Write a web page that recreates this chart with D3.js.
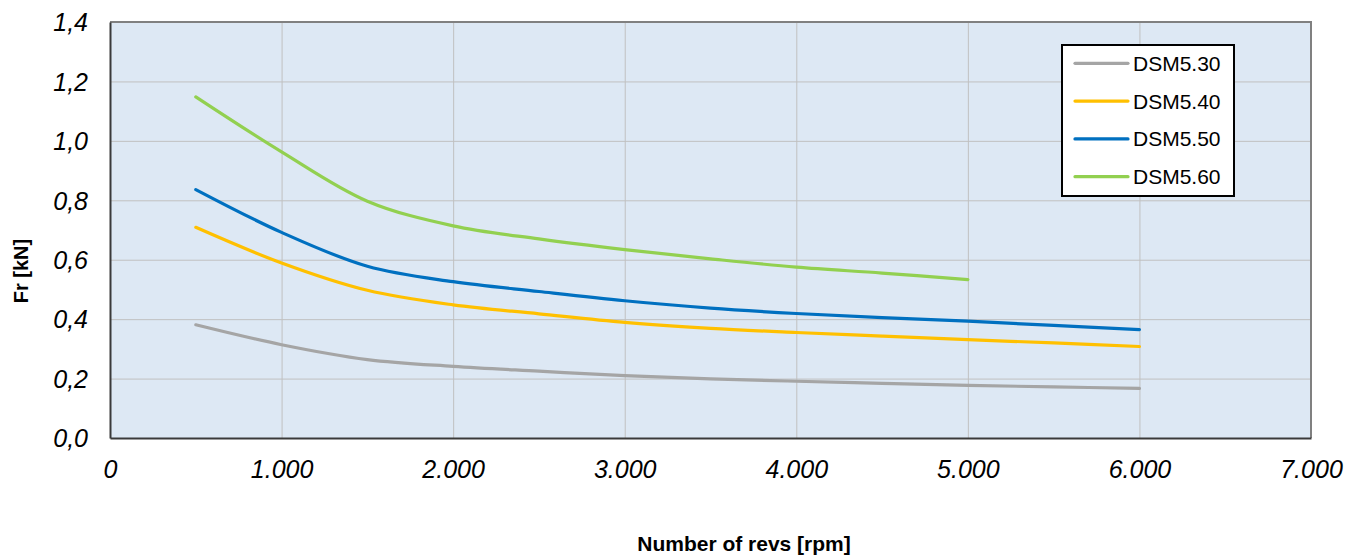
<!DOCTYPE html>
<html>
<head>
<meta charset="utf-8">
<script src="https://cdn.jsdelivr.net/npm/d3@7"></script>
<style>
  html, body { margin: 0; padding: 0; background: #ffffff; }
  svg { display: block; font-family: "Liberation Sans", Arial, sans-serif; }
</style>
</head>
<body>
<svg id="chart" width="1364" height="560"></svg>
<script>
// ---- data ----
const seriesNames = ["DSM5.30", "DSM5.40", "DSM5.50", "DSM5.60"];
const seriesColors = ["#A5A5A5", "#FFC000", "#0070C0", "#92D050"];

const rpm = [500, 1000, 1500, 2000, 2500, 3000, 3500, 4000, 4500, 5000, 5500, 6000];
const dsm530 = [0.381, 0.314, 0.264, 0.241, 0.225, 0.210, 0.199, 0.191, 0.184, 0.177, 0.172, 0.167];
const dsm540 = [0.709, 0.589, 0.497, 0.448, 0.418, 0.389, 0.369, 0.355, 0.343, 0.331, 0.320, 0.308];
const dsm550 = [0.836, 0.692, 0.578, 0.526, 0.493, 0.462, 0.437, 0.419, 0.405, 0.393, 0.379, 0.365];
const rpm560 = [500, 1000, 1500, 2000, 2500, 3000, 3500, 4000, 4500, 5000];
const dsm560 = [1.148, 0.963, 0.797, 0.714, 0.670, 0.634, 0.603, 0.575, 0.555, 0.533];

const xTicks = [0, 1000, 2000, 3000, 4000, 5000, 6000, 7000];
const yTicks = [0, 0.2, 0.4, 0.6, 0.8, 1.0, 1.2, 1.4];
const xTitle = "Number of revs [rpm]";
const yTitle = "Fr [kN]";

const series = [
  { name: seriesNames[0], color: seriesColors[0], x: rpm, y: dsm530 },
  { name: seriesNames[1], color: seriesColors[1], x: rpm, y: dsm540 },
  { name: seriesNames[2], color: seriesColors[2], x: rpm, y: dsm550 },
  { name: seriesNames[3], color: seriesColors[3], x: rpm560, y: dsm560 }
];

// ---- layout ----
const plot = { left: 110, right: 1311, top: 22, bottom: 438 };
const svg = d3.select("#chart");

const x = d3.scaleLinear().domain([0, 7000]).range([plot.left, plot.right]);
const y = d3.scaleLinear().domain([0, 1.4]).range([plot.bottom, plot.top]);

const fmtX = v => d3.format(",")(v).replace(/,/g, ".");
const fmtY = v => d3.format(".1f")(v).replace(".", ",");

// background
svg.append("rect")
  .attr("x", plot.left).attr("y", plot.top)
  .attr("width", plot.right - plot.left).attr("height", plot.bottom - plot.top)
  .attr("fill", "#DDE8F4");

// gridlines
const gx = svg.append("g").attr("transform", `translate(0,${plot.bottom})`)
  .call(d3.axisBottom(x).tickValues(xTicks.filter(v => v > 0 && v < 7000))
    .tickSize(-(plot.bottom - plot.top)).tickFormat(""));
gx.select(".domain").remove();
gx.selectAll("line").attr("stroke", "#C0C0C0").attr("stroke-width", 1);

const gy = svg.append("g").attr("transform", `translate(${plot.left},0)`)
  .call(d3.axisLeft(y).tickValues(yTicks.filter(v => v > 0 && v < 1.4))
    .tickSize(-(plot.right - plot.left)).tickFormat(""));
gy.select(".domain").remove();
gy.selectAll("line").attr("stroke", "#C0C0C0").attr("stroke-width", 1);

// plot border (top and right grey)
svg.append("path")
  .attr("d", `M${plot.left},${plot.top}H${plot.right}V${plot.bottom}`)
  .attr("fill", "none").attr("stroke", "#808080").attr("stroke-width", 2);

// lines
const line = d3.line().curve(d3.curveCatmullRom.alpha(0.5));
svg.append("g").selectAll("path").data(series).join("path")
  .attr("d", s => line(s.x.map((v, i) => [x(v), y(s.y[i])])))
  .attr("fill", "none")
  .attr("stroke", s => s.color)
  .attr("stroke-width", 3.2)
  .attr("stroke-linecap", "round")
  .attr("stroke-linejoin", "round");

// axes (left & bottom) via d3 axes
const xAxis = svg.append("g").attr("transform", `translate(0,${plot.bottom})`)
  .call(d3.axisBottom(x).tickValues(xTicks).tickSize(0).tickPadding(0).tickFormat(fmtX));
xAxis.select(".domain").attr("stroke", "#3a3a3a").attr("stroke-width", 2);
xAxis.selectAll("text")
  .attr("y", 40).attr("dy", 0)
  .attr("font-size", 25).attr("font-style", "italic")
  .attr("font-family", "'Liberation Sans', Arial, sans-serif")
  .attr("fill", "#000");

const yAxis = svg.append("g").attr("transform", `translate(${plot.left},0)`)
  .call(d3.axisLeft(y).tickValues(yTicks).tickSize(0).tickPadding(0).tickFormat(fmtY));
yAxis.select(".domain").attr("stroke", "#3a3a3a").attr("stroke-width", 2);
yAxis.selectAll("text")
  .attr("x", -22).attr("dy", "0.35em")
  .attr("font-size", 25).attr("font-style", "italic")
  .attr("font-family", "'Liberation Sans', Arial, sans-serif")
  .attr("fill", "#000");

// axis titles
svg.append("text")
  .attr("x", 744).attr("y", 551)
  .attr("text-anchor", "middle")
  .attr("font-size", 21).attr("font-weight", "bold")
  .text(xTitle);

svg.append("text")
  .attr("transform", "translate(28,271) rotate(-90)")
  .attr("text-anchor", "middle")
  .attr("font-size", 20).attr("font-weight", "bold")
  .text(yTitle);

// legend
const lg = { x: 1062, y: 45, w: 172, h: 151 };
svg.append("rect")
  .attr("x", lg.x).attr("y", lg.y).attr("width", lg.w).attr("height", lg.h)
  .attr("fill", "#ffffff").attr("stroke", "#000").attr("stroke-width", 2);

const items = svg.append("g").selectAll("g").data(series).join("g")
  .attr("transform", (d, i) => `translate(0,${63.3 + i * 37.8})`);
items.append("line")
  .attr("x1", 1075).attr("x2", 1128).attr("y1", 0).attr("y2", 0)
  .attr("stroke", d => d.color).attr("stroke-width", 3.2).attr("stroke-linecap", "round");
items.append("text")
  .attr("x", 1133).attr("y", 0).attr("dy", "0.36em")
  .attr("font-size", 21).attr("fill", "#000")
  .text(d => d.name);
</script>
</body>
</html>
